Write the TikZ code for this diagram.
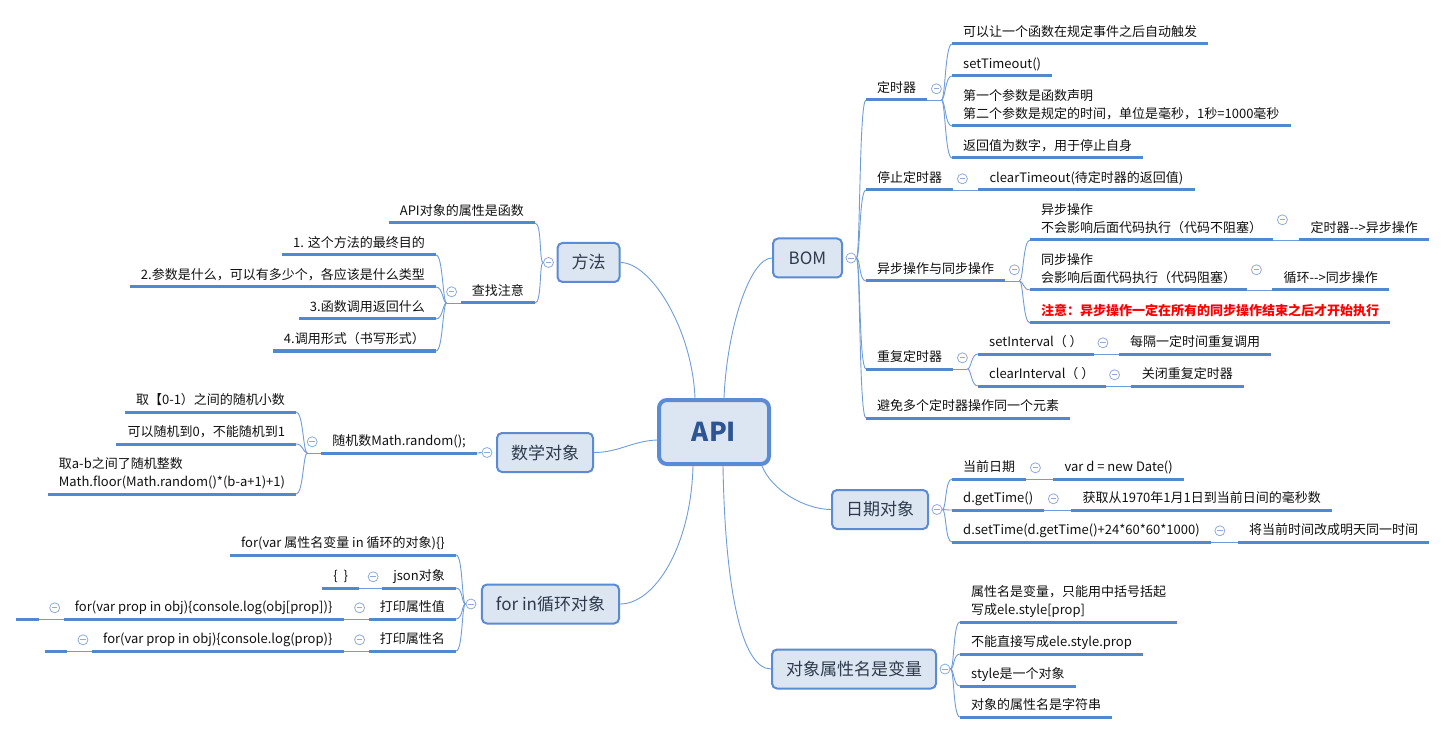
\documentclass[tikz,border=0pt]{standalone}
\usepackage{fontspec}
\setmainfont{Noto Sans CJK SC}
\definecolor{ulc}{HTML}{5288CE}
\definecolor{connc}{HTML}{6F9DDB}
\definecolor{boxc}{HTML}{5A8BD3}
\definecolor{boxfill}{HTML}{DCE6F2}
\definecolor{circc}{HTML}{8EABDB}
\definecolor{apitxt}{HTML}{2E5593}
\definecolor{topictxt}{HTML}{2F3B4C}
\definecolor{txtc}{HTML}{111111}
\definecolor{redc}{HTML}{FF0000}
\newcommand\leaffont{\fontsize{13}{18}\selectfont}
\newcommand\topicfont{\fontsize{17}{20}\selectfont}
\newcommand\TL[2]{\begin{tabular}[b]{@{}l@{}}#1\\#2\end{tabular}}
\newcommand\lkR[2]{\draw[conn] (#1) .. controls ([xshift=4pt]#1) and ([xshift=-7pt]#2.south west) .. (#2.south west);}
\newcommand\lkL[2]{\draw[conn] (#1) .. controls ([xshift=-4pt]#1) and ([xshift=7pt]#2.south east) .. (#2.south east);}
\tikzset{
  ul/.style={draw=ulc, line width=3pt},
  conn/.style={draw=connc, line width=0.9pt},
  leaf/.style={inner xsep=11pt, inner ysep=4pt, text height=11pt, text depth=3pt,
    font=\leaffont, text=txtc,
    append after command={(\tikzlastnode.south west) edge[ul] (\tikzlastnode.south east)}},
  R/.style={leaf, anchor=south west},
  L/.style={leaf, anchor=south east},
  two/.style={text height=29pt},
  topic/.style={draw=boxc, line width=2pt, fill=boxfill, rounded corners=5pt,
    inner xsep=14pt, minimum height=39pt, font=\topicfont, text=topictxt},
  apibox/.style={draw=boxc, line width=4pt, fill=boxfill, rounded corners=8pt,
    minimum width=110pt, minimum height=64pt,
    font=\fontsize{26}{30}\selectfont\bfseries, text=apitxt},
  coll/.style={circle, draw=circc, fill=white, line width=0.8pt, minimum size=10pt, inner sep=0pt,
    path picture={\draw[circc, line width=0.8pt]
      ([xshift=-2.8pt]path picture bounding box.center) -- ([xshift=2.8pt]path picture bounding box.center);}},
}
\begin{document}
\begin{tikzpicture}[x=1pt,y=-1pt]
\fill[white] (0,0) rectangle (1454,735);
\useasboundingbox (0,0) rectangle (1454,735);

% central and main topics
\node[apibox] (api) at (714,432) {API};
\node[topic, minimum width=69pt] (bom) at (807.5,258) {BOM};
\node[topic] (fangfa) at (588.5,262.5) {方法};
\node[topic] (shuxue) at (545,452.5) {数学对象};
\node[topic] (forin) at (550.5,604) {for in循环对象};
\node[topic] (riqi) at (880,509.5) {日期对象};
\node[topic] (duixiang) at (854,669) {对象属性名是变量};

\draw[conn] ([xshift=10pt]api.north) .. controls ([xshift=13pt,yshift=70pt]api.north) and ([xshift=-22pt]bom.west) .. (bom.west);
\draw[conn] ([xshift=-19pt]api.north) .. controls ([xshift=-22pt,yshift=70pt]api.north) and ([xshift=30pt]fangfa.east) .. (fangfa.east);
\draw[conn] ([yshift=-8pt]api.west) .. controls ([xshift=-25pt,yshift=-9pt]api.west) and ([xshift=25pt]shuxue.east) .. (shuxue.east);
\draw[conn] ([xshift=-21pt]api.south) .. controls ([xshift=-23pt,yshift=-80pt]api.south) and ([xshift=35pt]forin.east) .. (forin.east);
\draw[conn] ([xshift=48pt]api.south) .. controls ([xshift=58pt,yshift=-25pt]api.south) and ([xshift=-25pt]riqi.west) .. (riqi.west);
\draw[conn] ([xshift=9pt]api.south) .. controls ([xshift=11pt,yshift=-120pt]api.south) and ([xshift=-30pt]duixiang.west) .. (duixiang.west);

\node[coll] (cbom) at ([xshift=8pt]bom.east) {};
\node[coll] (cfangfa) at ([xshift=-8pt]fangfa.west) {};
\node[coll] (cshuxue) at ([xshift=-9pt]shuxue.west) {};
\node[coll] (cforin) at ([xshift=-10pt]forin.west) {};
\node[coll] (criqi) at ([xshift=8pt]riqi.east) {};
\node[coll] (cduixiang) at ([xshift=8pt]duixiang.east) {};

% ---------- BOM ----------
\node[R] (t1) at (866,100) {定时器};
\node[R] (t2) at (866,190) {停止定时器};
\node[R] (t3) at (866,281) {异步操作与同步操作};
\node[R] (t4) at (866,369) {重复定时器};
\node[R] (t5) at (866,418) {避免多个定时器操作同一个元素};
\foreach \c in {t1,t2,t3,t4,t5} {\lkR{cbom.east}{\c}}

\node[coll] (ct1) at ([xshift=9pt]t1.east) {};
\coordinate (ft1) at ([xshift=14pt]t1.south east);
\draw[conn] (t1.south east) -- (ft1);
\node[R] (t1a) at (952,44) {可以让一个函数在规定事件之后自动触发};
\node[R] (t1b) at (952,76) {setTimeout()};
\node[R,two] (t1c) at (952,126) {\TL{第一个参数是函数声明}{第二个参数是规定的时间，单位是毫秒，1秒=1000毫秒}};
\node[R] (t1d) at (952,158) {返回值为数字，用于停止自身};
\foreach \c in {t1a,t1b,t1c,t1d} {\lkR{ft1}{\c}}

\node[coll] (ct2) at ([xshift=9pt]t2.east) {};
\node[R] (t2a) at ([xshift=25pt]t2.south east) {clearTimeout(待定时器的返回值)};
\draw[conn] (t2.south east) -- (t2a.south west);

\node[coll] (ct3) at ([xshift=9pt]t3.east) {};
\coordinate (ft3) at ([xshift=14pt]t3.south east);
\draw[conn] (t3.south east) -- (ft3);
\node[R,two] (t3a) at (1030,240) {\TL{异步操作}{不会影响后面代码执行（代码不阻塞）}};
\node[R,two] (t3b) at (1030,290) {\TL{同步操作}{会影响后面代码执行（代码阻塞）}};
\node[R, text=redc, font=\leaffont\bfseries] (t3c) at (1030,323) {注意：异步操作一定在所有的同步操作结束之后才开始执行};
\foreach \c in {t3a,t3b,t3c} {\lkR{ft3}{\c}}
\node[coll] (ct3a) at ([xshift=9pt]t3a.east) {};
\node[R] (t3a1) at ([xshift=26pt]t3a.south east) {定时器-\kern0pt-\kern0pt>异步操作};
\draw[conn] (t3a.south east) -- (t3a1.south west);
\node[coll] (ct3b) at ([xshift=9pt]t3b.east) {};
\node[R] (t3b1) at ([xshift=25pt]t3b.south east) {循环-\kern0pt-\kern0pt>同步操作};
\draw[conn] (t3b.south east) -- (t3b1.south west);

\node[coll] (ct4) at ([xshift=9pt]t4.east) {};
\coordinate (ft4) at ([xshift=14pt]t4.south east);
\draw[conn] (t4.south east) -- (ft4);
\node[R] (t4a) at (978,354) {setInterval（ ）};
\node[R] (t4b) at (978,386) {clearInterval（ ）};
\foreach \c in {t4a,t4b} {\lkR{ft4}{\c}}
\node[coll] (ct4a) at ([xshift=9pt]t4a.east) {};
\node[R] (t4a1) at ([xshift=25pt]t4a.south east) {每隔一定时间重复调用};
\draw[conn] (t4a.south east) -- (t4a1.south west);
\node[coll] (ct4b) at ([xshift=9pt]t4b.east) {};
\node[R] (t4b1) at ([xshift=25pt]t4b.south east) {关闭重复定时器};
\draw[conn] (t4b.south east) -- (t4b1.south west);

% ---------- 日期对象 ----------
\node[R] (d1) at (952,479) {当前日期};
\node[R] (d2) at (952,510) {d.getTime()};
\node[R] (d3) at (952,542) {d.setTime(d.getTime()+24*60*60*1000)};
\foreach \c in {d1,d2,d3} {\lkR{criqi.east}{\c}}
\node[coll] (cd1) at ([xshift=9pt]d1.east) {};
\node[R] (d1a) at ([xshift=27pt]d1.south east) {var d = new Date()};
\draw[conn] (d1.south east) -- (d1a.south west);
\node[coll] (cd2) at ([xshift=9pt]d2.east) {};
\node[R] (d2a) at ([xshift=27pt]d2.south east) {获取从1970年1月1日到当前日间的毫秒数};
\draw[conn] (d2.south east) -- (d2a.south west);
\node[coll] (cd3) at ([xshift=9pt]d3.east) {};
\node[R] (d3a) at ([xshift=27pt]d3.south east) {将当前时间改成明天同一时间};
\draw[conn] (d3.south east) -- (d3a.south west);

% ---------- 对象属性名是变量 ----------
\node[R,two] (o1) at (960,622) {\TL{属性名是变量，只能用中括号括起}{写成ele.style[prop]}};
\node[R] (o2) at (960,654) {不能直接写成ele.style.prop};
\node[R] (o3) at (960,686) {style是一个对象};
\node[R] (o4) at (960,717) {对象的属性名是字符串};
\foreach \c in {o1,o2,o3,o4} {\lkR{cduixiang.east}{\c}}

% ---------- 方法 ----------
\node[L] (m1) at (535,223) {API对象的属性是函数};
\node[L] (m2) at (535,303) {查找注意};
\foreach \c in {m1,m2} {\lkL{cfangfa.west}{\c}}
\node[coll] (cm2) at ([xshift=-9pt]m2.west) {};
\coordinate (fm2) at ([xshift=-14pt]m2.south west);
\draw[conn] (m2.south west) -- (fm2);
\node[L] (m2a) at (436,255) {1. 这个方法的最终目的};
\node[L] (m2b) at (436,287) {2.参数是什么，可以有多少个，各应该是什么类型};
\node[L] (m2c) at (436,319) {3.函数调用返回什么};
\node[L] (m2d) at (436,351) {4.调用形式（书写形式）};
\foreach \c in {m2a,m2b,m2c,m2d} {\lkL{fm2}{\c}}

% ---------- 数学对象 ----------
\node[L] (s1) at (477,453) {随机数Math.random();};
\lkL{cshuxue.west}{s1}
\node[coll] (cs1) at ([xshift=-9pt]s1.west) {};
\coordinate (fs1) at ([xshift=-14pt]s1.south west);
\draw[conn] (s1.south west) -- (fs1);
\node[L] (s1a) at ([shift={(-25pt,41pt)}]s1.south west) {取【0-1）之间的随机小数};
\node[L] (s1b) at ([shift={(-25pt,9pt)}]s1.south west) {可以随机到0，不能随机到1};
\node[L,two] (s1c) at ([shift={(-25pt,-41pt)}]s1.south west) {\TL{取a-b之间了随机整数}{Math.floor(Math.random()*(b-a+1)+1)}};
\foreach \c in {s1a,s1b,s1c} {\lkL{fs1}{\c}}

% ---------- for in循环对象 ----------
\node[L] (f1) at (456,555) {for(var 属性名变量 in 循环的对象)\{\}};
\node[L] (f2) at (456,588) {json对象};
\node[L] (f3) at (456,619) {打印属性值};
\node[L] (f4) at (456,651) {打印属性名};
\foreach \c in {f1,f2,f3,f4} {\lkL{cforin.west}{\c}}
\node[coll] (cf2) at ([xshift=-9pt]f2.west) {};
\node[L] (f2a) at ([xshift=-23pt]f2.south west) {\{\ \ \}};
\draw[conn] (f2.south west) -- (f2a.south east);
\node[coll] (cf3) at ([xshift=-9pt]f3.west) {};
\node[L] (f3a) at ([xshift=-25pt]f3.south west) {for(var prop in obj)\{console.log(obj[prop])\}};
\draw[conn] (f3.south west) -- (f3a.south east);
\node[coll] (cf3a) at ([xshift=-9pt]f3a.west) {};
\node[L] (f3b) at ([xshift=-25pt]f3a.south west) {};
\draw[conn] (f3a.south west) -- (f3b.south east);
\node[coll] (cf4) at ([xshift=-9pt]f4.west) {};
\node[L] (f4a) at ([xshift=-25pt]f4.south west) {for(var prop in obj)\{console.log(prop)\}};
\draw[conn] (f4.south west) -- (f4a.south east);
\node[coll] (cf4a) at ([xshift=-9pt]f4a.west) {};
\node[L] (f4b) at ([xshift=-25pt]f4a.south west) {};
\draw[conn] (f4a.south west) -- (f4b.south east);
\end{tikzpicture}
\end{document}
